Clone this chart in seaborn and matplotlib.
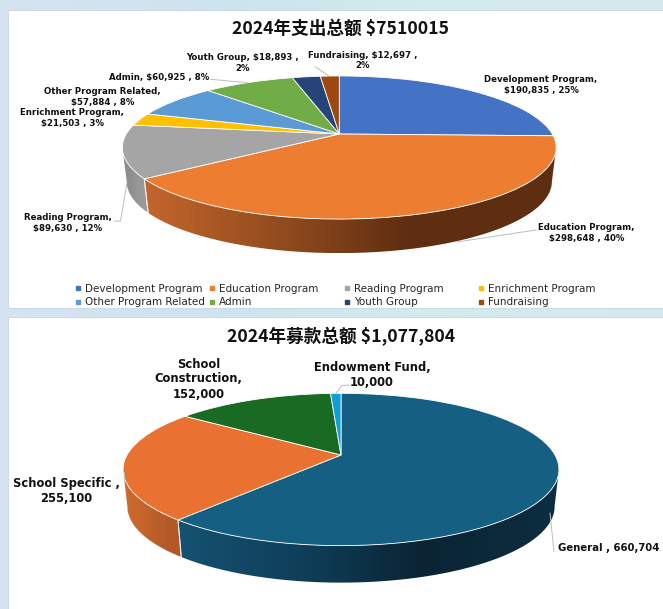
import matplotlib.pyplot as plt
import numpy as np
import seaborn as sns
from matplotlib.colors import LinearSegmentedColormap
from matplotlib.lines import Line2D
from matplotlib.patches import Polygon, Rectangle
from matplotlib.transforms import Transform

sns.set_theme(style="white")
plt.rcParams['font.family'] = ['Noto Sans CJK SC', 'DejaVu Sans']
plt.rcParams['text.parse_math'] = False

# spending chart
spend_names = ["Development Program", "Education Program", "Reading Program", "Enrichment Program",
               "Other Program Related", "Admin", "Youth Group", "Fundraising"]
spend_values = [190835, 298648, 89630, 21503, 57884, 60925, 18893, 12697]
spend_labels = ["Development Program,\n$190,835 , 25%", "Education Program,\n$298,648 , 40%",
                "Reading Program,\n$89,630 , 12%", "Enrichment Program,\n$21,503 , 3%",
                "Other Program Related,\n$57,884 , 8%", "Admin, $60,925 , 8%",
                "Youth Group, $18,893 ,\n2%", "Fundraising, $12,697 ,\n2%"]
spend_title = "2024年支出总额 $7510015"

# fundraising chart
fund_values = [660704, 255100, 152000, 10000]
fund_labels = ["General , 660,704", "School Specific ,\n255,100",
               "School\nConstruction,\n152,000", "Endowment Fund,\n10,000"]
fund_title = "2024年募款总额 $1,077,804"

spend_colors = sns.color_palette(["#4472C4", "#ED7D31", "#A5A5A5", "#FFC000",
                                  "#5B9BD5", "#70AD47", "#264478", "#9E480E"])
fund_colors = sns.color_palette(["#156082", "#E97132", "#196B24", "#0F9ED5"])

# side wall shading per slice, left to right
spend_walls = {1: ["#c4662c", "#8f4a1e", "#5f2e10", "#5f2f12"], 2: ["#8a8a8a", "#8f8f8f", "#989898", "#9a9a9a"]}
fund_walls = {0: ["#155272", "#0f3d57", "#0a2433", "#0c2e41"], 1: ["#ce6c30", "#c4642c", "#b85c28", "#b05826"]}


class Tilt(Transform):
    # flat circle -> perspective ellipse, output is in figure pixels
    input_dims = 2
    output_dims = 2

    def __init__(self, cx, cy, a, b, k):
        super().__init__()
        self.cx, self.cy, self.a, self.b, self.k = cx, cy, a, b, k

    def transform_non_affine(self, xy):
        xy = np.asarray(xy)
        w = 1 + self.k * xy[:, 1]
        return np.column_stack([self.cx + self.a * xy[:, 0] / w, self.cy - self.b * xy[:, 1] / w])


def draw_pie(ax, values, colors, walls, cx, cy, a, b, k, depth):
    tilt = Tilt(cx, cy, a, b, k)
    wedges, _ = ax.pie(values, colors=colors, startangle=90, counterclock=False, radius=1,
                       wedgeprops=dict(edgecolor="white", linewidth=0.6))
    for i, w in enumerate(wedges):
        w.set_transform(tilt + ax.transData)
        w.set_zorder(3)
        if i not in walls:
            continue
        # walk from the front end of the slice back to the widest point of the ellipse
        if np.sin(np.radians(w.theta1)) < np.sin(np.radians(w.theta2)):
            front, back = w.theta1, w.theta2 + 20
        else:
            front, back = w.theta2, w.theta1 - 20
        t = np.radians(np.linspace(front, back, 300))
        top = tilt.transform_non_affine(np.column_stack([np.cos(t), np.sin(t)]))
        widest = np.argmax(np.abs(top[:, 0] - cx))
        top = top[:widest + 1]
        bottom = np.column_stack([cx + (top[:, 0] - cx) * 0.98, top[:, 1] + depth])
        pts = np.vstack([top, bottom[::-1]])
        x0, x1 = pts[:, 0].min(), pts[:, 0].max()
        cmap = LinearSegmentedColormap.from_list("wall", list(zip([0, 0.35, 0.64, 1], walls[i])))
        im = ax.imshow(np.linspace(0, 1, 256)[None, :], cmap=cmap, aspect="auto", zorder=2,
                       extent=(x0, x1, pts[:, 1].max(), pts[:, 1].min()))
        im.set_clip_path(Polygon(pts, transform=ax.transData))
        if np.sin(t[0]) < -0.2:
            ax.plot([top[0, 0], bottom[0, 0]], [top[0, 1], bottom[0, 1]],
                    color="white", lw=0.7, alpha=0.8, zorder=2.5)
    return wedges


fig = plt.figure(figsize=(6.63, 6.09), dpi=100)
ax = fig.add_axes([0, 0, 1, 1])

bg = LinearSegmentedColormap.from_list("bg", ["#d6e4f2", "#cde3ef", "#d4ecee", "#d6e8f0"])
ax.imshow(np.linspace(0, 1, 256)[None, :], cmap=bg, aspect="auto", extent=(0, 663, 609, 0), zorder=0)
ax.add_patch(Rectangle((8, 10), 660, 297.5, fc="white", ec="#c9d6de", lw=0.6, zorder=1))
ax.add_patch(Rectangle((8, 317), 660, 300, fc="white", ec="#c9d6de", lw=0.6, zorder=1))

spend_wedges = draw_pie(ax, spend_values, spend_colors, spend_walls, 339.3, 134, 213, 69, 0.189, 34)
fund_wedges = draw_pie(ax, fund_values, fund_colors, fund_walls, 341, 455, 214, 73.4, 0.19, 37)

ax.text(341, 29, spend_title, ha="center", va="center", fontsize=12.7, fontweight="bold", color="#111111", zorder=5)
ax.text(341, 336.5, fund_title, ha="center", va="center", fontsize=12.7, fontweight="bold", color="#111111", zorder=5)

# label anchors, px
spend_xy = [(541, 85), (586.5, 233), (68, 223), (72.5, 118), (102.5, 97), (159.5, 77.7), (243, 63), (363, 60.7)]
fund_xy = [(557.5, 548.3), (66, 491.5), (198.7, 379), (372, 375)]
for lab, (x, y) in zip(spend_labels, spend_xy):
    ax.text(x, y, lab, ha="center", va="center", fontsize=6.2, fontweight="bold", color="#111111",
            family="DejaVu Sans", linespacing=1.2, zorder=5)
for i, (lab, (x, y)) in enumerate(zip(fund_labels, fund_xy)):
    # the General label sits right at the edge, a bit smaller so it stays whole
    ax.text(x, y, lab, ha="left" if i == 0 else "center", va="center", fontsize=7.3 if i == 0 else 8.3,
            fontweight="bold", color="#111111", family="DejaVu Sans", linespacing=1.2, zorder=5)

# leader lines
leaders = [[(536, 230), (457, 242)], [(114, 221), (120.5, 221), (127, 183)], [(210.6, 79.3), (247, 82.7)],
           [(315, 66.7), (329, 76)], [(349, 385), (341.7, 385.7), (336, 393.3)], [(554, 552), (550, 513)],
           [(123.5, 472), (123.5, 480)]]
for line in leaders:
    xs, ys = zip(*line)
    ax.plot(xs, ys, color="#bdbdbd", lw=0.7, zorder=4)

# legend, 4 evenly spaced columns of 2
legend_x = [75, 209, 344, 478]
for c in range(4):
    handles = [Line2D([], [], ls="", marker="s", ms=2.2, color=spend_colors[c + r * 4]) for r in range(2)]
    names = [spend_names[c + r * 4] for r in range(2)]
    leg = ax.legend(handles, names, loc="upper left", bbox_to_anchor=(legend_x[c], 283.5), bbox_transform=ax.transData,
                    frameon=False, borderpad=0, borderaxespad=0, handlelength=0.6, handletextpad=0.4,
                    labelspacing=0.36, prop=dict(family="DejaVu Sans", size=7.45))
    for t in leg.get_texts():
        t.set_color("#262626")
    leg.set_zorder(5)
    if c < 3:
        ax.add_artist(leg)

ax.set_aspect("auto")
ax.set_xlim(0, 663)
ax.set_ylim(609, 0)
ax.axis("off")

fig.savefig("out.png", dpi=100)
